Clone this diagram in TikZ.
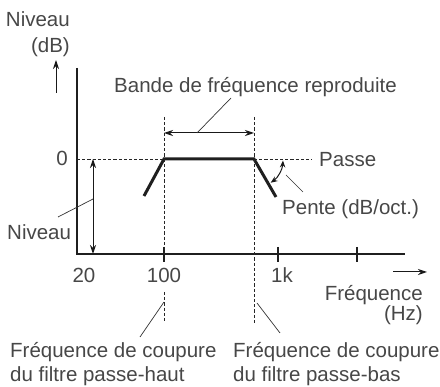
\documentclass[tikz,border=0pt]{standalone}
\usepackage{fontspec}
\setmainfont{Liberation Sans}
\usetikzlibrary{arrows.meta}
\begin{document}
\begin{tikzpicture}[x=1pt,y=-1pt,
  txt/.style={inner sep=0pt,text=black!72,font=\fontsize{20.5}{24}\selectfont},
  axis/.style={line width=2.6pt,black!88},
  curve/.style={line width=3pt,black!88},
  dsh/.style={line width=0.9pt,black!85,dash pattern=on 3.2pt off 2pt},
  lead/.style={line width=0.7pt,black!80},
  dim/.style={line width=1pt,black!90,{Stealth[length=9pt,width=6pt]}-{Stealth[length=9pt,width=6pt]}},
  uni/.style={line width=1pt,black!90,-{Stealth[length=9pt,width=6pt]}}]
\useasboundingbox (0,0) rectangle (440,387);
% coordinates
\coordinate (ytop) at (77,68);
\coordinate (org) at (77,254);
\coordinate (xend) at (405,254);
\coordinate (z0) at (77,159);
\coordinate (hp) at (164,159);
\coordinate (lp) at (254,159);
\coordinate (ls) at (144,196);
\coordinate (rs) at (276,197);
\coordinate (pe) at (312,159);
% axes
\draw[axis,line join=miter] (ytop) -- (org) -- (xend);
\foreach \x/\n in {164/ta,278/tb,357/tc}{
  \coordinate (\n1) at (\x,247); \coordinate (\n2) at (\x,262);
  \draw[axis] (\n1) -- (\n2);}
% response curve
\draw[curve,line join=miter] (ls) -- (hp) -- (lp) -- (rs);
% dashed lines
\coordinate (hpt) at (164,117); \coordinate (hpb) at (164,254);
\coordinate (hpb1) at (164,292); \coordinate (hpb2) at (164,323);
\coordinate (lpt) at (254,117); \coordinate (lpb) at (254,323);
\draw[dsh] (z0) -- (hp);
\draw[dsh] (lp) -- (pe);
\draw[dsh] (hpt) -- (hpb);
\draw[dsh] (hpb1) -- (hpb2);
\draw[dsh] (lpt) -- (lpb);
% band arrow
\coordinate (ba) at (164,133); \coordinate (bb) at (254,133);
\draw[dim] (ba) -- (bb);
\coordinate (bl1) at (197,133); \coordinate (bl2) at (231,98);
\draw[lead] (bl1) -- (bl2);
% level arrow
\coordinate (la) at (93,159); \coordinate (lb) at (93,254);
\draw[dim] (la) -- (lb);
\coordinate (ll1) at (93,199); \coordinate (ll2) at (58,217);
\draw[lead] (ll1) -- (ll2);
% axis arrows
\coordinate (ya1) at (56,93); \coordinate (ya2) at (56,60);
\draw[uni] (ya1) -- (ya2);
\coordinate (xa1) at (393,272); \coordinate (xa2) at (427,272);
\draw[uni] (xa1) -- (xa2);
% slope arc
\draw[line width=1pt,black!90,{Stealth[length=7pt,width=5.5pt]}-{Stealth[length=7pt,width=5.5pt]}]
  ([shift={(-3:29pt)}]lp) arc[start angle=-3, end angle=-55, radius=29pt];
\coordinate (sl1) at (286,175); \coordinate (sl2) at (303,192);
\draw[lead] (sl1) -- (sl2);
% bottom leaders
\coordinate (c1a) at (164,302); \coordinate (c1b) at (140,337);
\coordinate (c2a) at (257,303); \coordinate (c2b) at (280,333);
\draw[lead] (c1a) -- (c1b);
\draw[lead] (c2a) -- (c2b);
% texts
\node[txt,anchor=base east] (t1) at (70,27) {Niveau};
\node[txt,anchor=base east] (t2) at (70,53) {(dB)};
\node[txt,anchor=base west] (t3) at (114,93) {Bande de fréquence reproduite};
\node[txt,anchor=base] (t4) at (62,166) {0};
\node[txt,anchor=base west] (t5) at (319,167) {Passe};
\node[txt,anchor=base west] (t6) at (282,215) {Pente (dB/oct.)};
\node[txt,anchor=base west] (t7) at (7,240) {Niveau};
\node[txt,anchor=base] (t8) at (84,283) {20};
\node[txt,anchor=base] (t9) at (164,283) {100};
\node[txt,anchor=base] (t10) at (282,283) {1k};
\node[txt,anchor=base east] (t11) at (423,301) {Fréquence};
\node[txt,anchor=base east] (t12) at (423,321) {(Hz)};
\node[txt,anchor=base west] (t13) at (10,358) {Fréquence de coupure};
\node[txt,anchor=base west] (t14) at (10,382) {du filtre passe-haut};
\node[txt,anchor=base west] (t15) at (233,358) {Fréquence de coupure};
\node[txt,anchor=base west] (t16) at (233,382) {du filtre passe-bas};
\end{tikzpicture}
\end{document}
